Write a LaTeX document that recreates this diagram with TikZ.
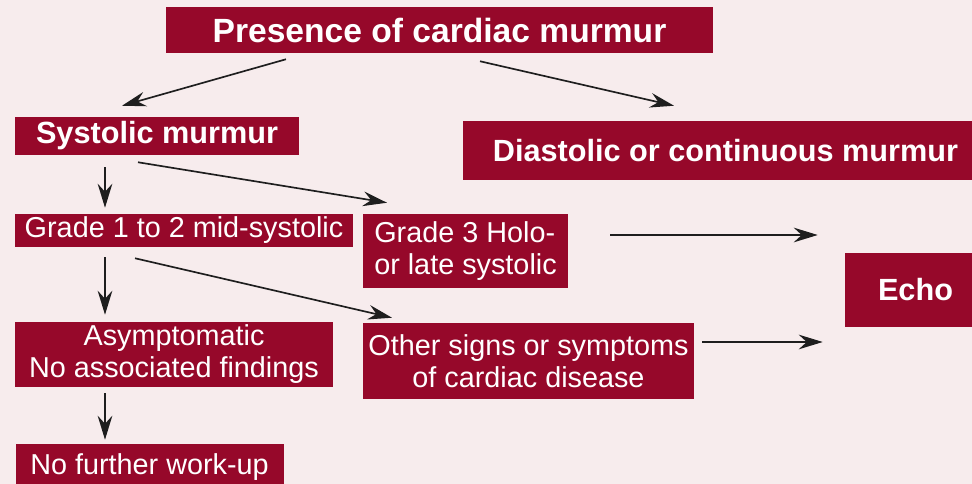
\documentclass[tikz,border=0pt]{standalone}
\usepackage{fontspec}
\setmainfont{Liberation Sans}
\usetikzlibrary{arrows.meta,calc}
\definecolor{boxred}{RGB}{150,8,42}
\definecolor{bgpink}{RGB}{247,236,237}
\definecolor{arrowgray}{RGB}{30,30,30}
\tikzset{
  box/.style={fill=boxred, text=white, inner sep=0pt, anchor=center,
    font=\fontsize{21.6pt}{24pt}\selectfont, align=center},
  boldbox/.style={box, font=\fontsize{23pt}{26pt}\selectfont\bfseries},
  arr/.style={draw=arrowgray, line width=1.25pt,
    -{Stealth[length=18pt,width=11pt,inset=6pt]}}
}
\begin{document}
\begin{tikzpicture}[x=0.75pt,y=-0.75pt]
\fill[bgpink] (0,0) rectangle (972,484);
\useasboundingbox (0,0) rectangle (972,484);
\clip (0,0) rectangle (972,484);

\node[boldbox, font=\fontsize{25.2pt}{28pt}\selectfont\bfseries,
  minimum width=410.25pt, minimum height=34.5pt] (title) at (439.5,30) {Presence of cardiac murmur};
\node[boldbox, minimum width=213pt, minimum height=28.5pt] (sys) at (157,136) {Systolic murmur};
\node[boldbox, minimum width=393.75pt, minimum height=44.25pt] (dia) at (725.5,150.5) {Diastolic or continuous murmur};
\node[box, minimum width=253.5pt, minimum height=24.75pt] (g12) at (184,230.5) {Grade 1 to 2 mid-systolic};
\node[box, align=left, minimum width=153.75pt, minimum height=55.5pt] (g3) at (465.5,251) {Grade 3 Holo-\\or late systolic};
\node[box, minimum width=238.5pt, minimum height=48.75pt] (asy) at (174,354.5) {Asymptomatic\\No associated findings};
\node[box, minimum width=248.25pt, minimum height=57pt] (oth) at (528.5,361) {Other signs or symptoms\\of cardiac disease};
\node[box, minimum width=201pt, minimum height=34.5pt] (nfw) at (149.5,467) {No further work-up};
\node[boldbox, minimum width=105.75pt, minimum height=55.5pt] (echo) at (915.5,290) {Echo};

\draw[arr] ($(title.south)+(-153.5,6)$) -- ($(sys.north)+(-35,-11)$);
\draw[arr] ($(title.south)+(40.5,8)$) -- ($(dia.north)+(-51.5,-15)$);
\draw[arr] ($(sys.south)+(-52,12)$) -- ($(g12.north)+(-79,-6)$);
\draw[arr] ($(sys.south)+(-19,7)$) -- ($(g3.north)+(-78.5,-11)$);
\draw[arr] ($(g12.south)+(-79,10)$) -- ($(asy.north)+(-69,-7)$);
\draw[arr] ($(g12.south)+(-49,11)$) -- ($(oth.north)+(-136.5,-5)$);
\draw[arr] ($(asy.south)+(-69,6)$) -- ($(nfw.north)+(-44.5,-4)$);
\draw[arr] ($(g3.east)+(42,-16)$) -- ($(echo.west)+(-27,-55)$);
\draw[arr] ($(oth.east)+(8,-19)$) -- ($(echo.west)+(-22,52)$);
\end{tikzpicture}
\end{document}
